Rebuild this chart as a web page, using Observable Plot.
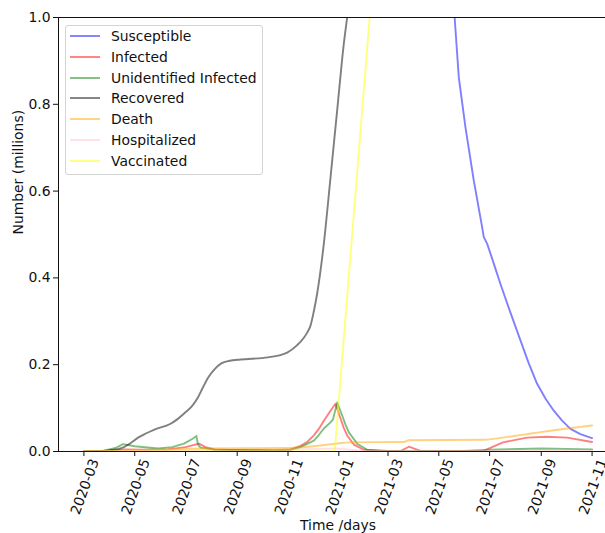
<!DOCTYPE html>
<html><head><meta charset="utf-8">
<script src="https://cdn.jsdelivr.net/npm/d3@7"></script>
<script src="https://cdn.jsdelivr.net/npm/@observablehq/plot@0.6"></script>
<style>
body{margin:0;background:#fff;}
#wrap{position:relative;width:605px;height:533px;font-family:"DejaVu Sans",sans-serif;overflow:hidden;}
#legend{position:absolute;left:65px;top:25px;width:198px;height:150px;border:1px solid #d4d4d4;border-radius:3px;background:rgba(255,255,255,0.8);box-sizing:border-box;}
.row{position:absolute;left:0;height:20px;display:flex;align-items:center;font-size:13.9px;color:#111;white-space:nowrap;}
.row svg{margin-left:4px;margin-right:11px;}
</style></head><body><div id="wrap"></div>
<script>
// ---- series names & colours (legend order) ----
const seriesNames = ["Susceptible","Infected","Unidentified Infected","Recovered","Death","Hospitalized","Vaccinated"];
const seriesColors = ["blue","red","green","black","orange","pink","yellow"];
const seriesCurves = ["linear","linear","linear","monotone-x","monotone-x","linear","linear"];

// ---- values (millions) ----
const susceptibleDates = ["2020-03-01","2021-03-01","2021-04-05","2021-05-05","2021-05-20","2021-05-25","2021-06-02","2021-06-12","2021-06-22","2021-06-24","2021-06-28","2021-07-06","2021-07-14","2021-07-26","2021-08-07","2021-08-17","2021-08-27","2021-09-06","2021-09-16","2021-09-26","2021-10-06","2021-10-18","2021-10-30","2021-11-01"];
const susceptibleValues = [6.0,3.8,2.3,1.45,1.0,0.862,0.747,0.624,0.517,0.494,0.479,0.433,0.386,0.32,0.256,0.203,0.156,0.122,0.094,0.071,0.052,0.04,0.032,0.031];

const infectedDates = ["2020-03-01","2020-04-01","2020-04-20","2020-05-10","2020-06-10","2020-07-01","2020-07-17","2020-07-25","2020-08-05","2020-09-01","2020-10-15","2020-11-04","2020-11-16","2020-11-24","2020-12-02","2020-12-08","2020-12-14","2020-12-22","2020-12-28","2021-01-03","2021-01-07","2021-01-11","2021-01-19","2021-01-31","2021-02-20","2021-03-16","2021-03-26","2021-04-10","2021-06-23","2021-07-17","2021-08-15","2021-09-08","2021-10-02","2021-11-01"];
const infectedValues = [0,0.002,0.005,0.004,0.005,0.01,0.018,0.01,0.005,0.003,0.003,0.005,0.013,0.022,0.037,0.052,0.071,0.094,0.11,0.076,0.054,0.037,0.016,0.004,0.001,0.001,0.011,0.001,0.001,0.021,0.032,0.034,0.032,0.022];

const unidentifiedDates = ["2020-03-01","2020-03-25","2020-04-08","2020-04-17","2020-05-01","2020-05-29","2020-06-15","2020-06-29","2020-07-10","2020-07-14","2020-07-16","2020-07-19","2020-08-05","2020-10-15","2020-11-04","2020-11-16","2020-12-02","2020-12-08","2020-12-14","2020-12-22","2020-12-25","2020-12-30","2021-01-05","2021-01-09","2021-01-13","2021-01-23","2021-02-04","2021-03-01","2021-06-01","2021-07-01","2021-09-01","2021-11-01"];
const unidentifiedValues = [0,0.002,0.008,0.017,0.012,0.007,0.01,0.018,0.03,0.036,0.016,0.009,0.004,0.003,0.004,0.01,0.025,0.038,0.053,0.067,0.074,0.113,0.083,0.062,0.044,0.018,0.004,0.001,0.001,0.004,0.007,0.005];

const recoveredDates = ["2020-03-01","2020-03-21","2020-04-14","2020-04-25","2020-05-05","2020-05-15","2020-05-24","2020-06-13","2020-06-21","2020-06-29","2020-07-09","2020-07-16","2020-07-22","2020-07-28","2020-08-05","2020-08-13","2020-08-23","2020-09-05","2020-10-08","2020-10-31","2020-11-12","2020-11-20","2020-11-24","2020-11-28","2020-12-02","2020-12-06","2020-12-14","2020-12-22","2020-12-30","2021-01-07","2021-01-11","2021-01-25","2021-11-01"];
const recoveredValues = [0,0.001,0.007,0.018,0.032,0.042,0.05,0.064,0.074,0.087,0.105,0.125,0.148,0.17,0.19,0.203,0.209,0.212,0.217,0.228,0.245,0.262,0.274,0.29,0.323,0.364,0.479,0.631,0.786,0.94,1.0,1.22,3.0];

const deathDates = ["2020-03-01","2020-04-15","2020-06-01","2020-07-20","2020-11-01","2020-12-01","2020-12-28","2021-01-15","2021-03-20","2021-03-26","2021-06-25","2021-07-17","2021-08-22","2021-10-02","2021-11-01"];
const deathValues = [0,0.002,0.004,0.007,0.008,0.012,0.018,0.021,0.022,0.026,0.027,0.032,0.042,0.053,0.06];

const hospitalizedDates = ["2020-03-01","2020-04-20","2020-07-17","2020-09-01","2020-12-28","2021-02-01","2021-09-01","2021-11-01"];
const hospitalizedValues = [0,0.002,0.003,0.001,0.007,0.001,0.002,0.002];

const vaccinatedDates = ["2020-03-01","2020-12-27","2021-02-07","2021-03-15","2021-11-01"];
const vaccinatedValues = [0,0,1.0,1.85,3.0];

// ---- axis ticks ----
const xTickLabels = ["2020-03","2020-05","2020-07","2020-09","2020-11","2021-01","2021-03","2021-05","2021-07","2021-09","2021-11"];
const yTicks = [0,0.2,0.4,0.6,0.8,1.0];

const parse = d3.utcParse("%Y-%m-%d");
const seriesDates = [susceptibleDates,infectedDates,unidentifiedDates,recoveredDates,deathDates,hospitalizedDates,vaccinatedDates];
const seriesValues = [susceptibleValues,infectedValues,unidentifiedValues,recoveredValues,deathValues,hospitalizedValues,vaccinatedValues];
const seriesRows = seriesNames.map((name,i)=>seriesDates[i].map((d,j)=>({series:name,date:parse(d),value:seriesValues[i][j]})));

// x domain like matplotlib: 5% margins around the data span; right part of the axes is cropped
const dataStart = parse("2020-03-01"), dataEnd = parse("2021-11-01");
const pad = (dataEnd - dataStart) * 0.05;
const fullStart = new Date(+dataStart - pad), fullEnd = new Date(+dataEnd + pad);
const fullAxesPx = 559, visibleAxesPx = 547;
const xEnd = new Date(+fullStart + (fullEnd - fullStart) * visibleAxesPx / fullAxesPx);

const xTicks = xTickLabels.map(s=>parse(s+"-01"));

const chart = Plot.plot({
  width: 605, height: 533,
  marginLeft: 58, marginRight: 0, marginTop: 17, marginBottom: 82,
  style: {fontFamily: "DejaVu Sans", fontSize: "13.9px", color: "#111", background: "white"},
  x: {type: "utc", domain: [fullStart, xEnd]},
  y: {domain: [0, 1]},
  marks: [
    ...seriesRows.map((rows,i)=>Plot.lineY(rows,{x:"date",y:"value",stroke:seriesColors[i],strokeOpacity:0.5,strokeWidth:1.9,curve:seriesCurves[i],clip:true})),
    Plot.ruleY([0,1],{stroke:"#111",strokeWidth:1}),
    Plot.ruleX([fullStart],{stroke:"#111",strokeWidth:1}),
    Plot.axisY({ticks:yTicks,tickFormat:d3.format(".1f"),tickSize:5,tickPadding:3,label:null,stroke:"#111"}),
    Plot.axisX({ticks:xTicks,tickFormat:()=>"",tickSize:5,label:null,stroke:"#111"}),
    Plot.axisX({ticks:xTicks,tickFormat:d3.utcFormat("%Y-%m"),tickSize:0,tickPadding:8,tickRotate:-70,dx:11,label:null}),
    Plot.text(["Time /days"],{frameAnchor:"bottom",dy:78,dx:6,fontSize:13.9}),
    Plot.text(["Number (millions)"],{frameAnchor:"left",rotate:-90,dx:-40,fontSize:13.9})
  ]
});

const wrap = document.getElementById("wrap");
wrap.appendChild(chart);
const legend = document.createElement("div");
legend.id = "legend";
seriesNames.forEach((name,i)=>{
  const row = document.createElement("div");
  row.className = "row";
  row.style.top = (i*20.8) + "px";
  row.innerHTML = `<svg width="30" height="4"><line x1="0" x2="30" y1="2" y2="2" stroke="${seriesColors[i]}" stroke-opacity="0.5" stroke-width="1.9"/></svg><span>${name}</span>`;
  legend.appendChild(row);
});
wrap.appendChild(legend);
</script>
</body></html>
